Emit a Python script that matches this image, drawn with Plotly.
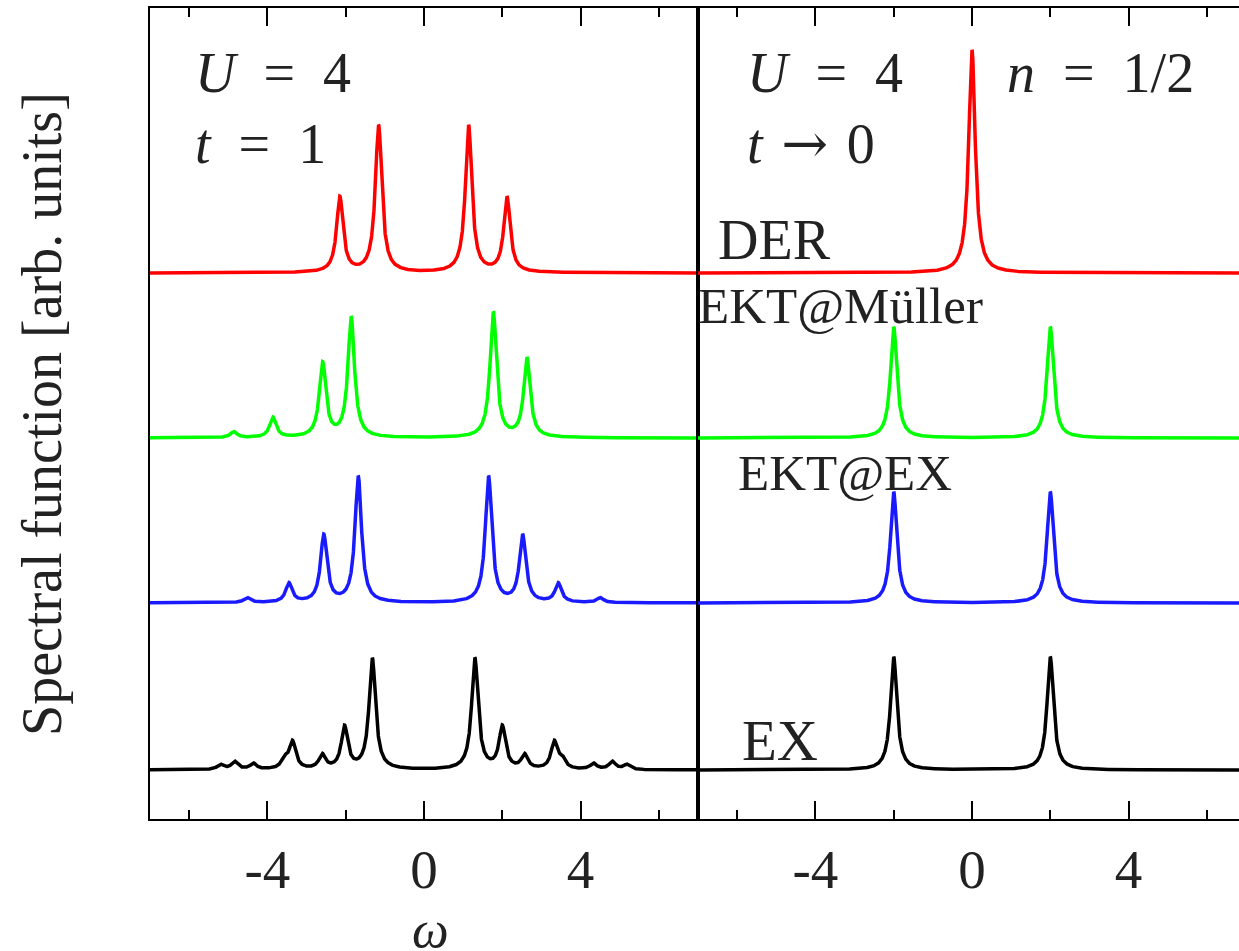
import numpy as np
import plotly.graph_objects as go

W, H = 1239, 951

# ---------------- data ----------------
# peak positions (omega) and peak heights (arb. units) of each spectral curve
gamma = 0.10  # Lorentzian half-width used for broadening

# left panel: U = 4, t = 1
der_t1_pos = [-2.15, -1.16, 1.14, 2.12]
der_t1_amp = [0.75, 1.47, 1.47, 0.75]
mul_t1_pos = [-4.86, -3.86, -2.59, -1.86, 1.77, 2.63]
mul_t1_amp = [0.06, 0.20, 0.74, 1.20, 1.25, 0.79]
ekt_t1_pos = [-4.52, -3.45, -2.56, -1.68, 1.65, 2.52, 3.43, 4.50]
ekt_t1_amp = [0.05, 0.19, 0.67, 1.26, 1.26, 0.67, 0.19, 0.05]
ex_t1_pos = [-5.20, -4.84, -4.36, -3.56, -3.36, -2.60, -2.03, -1.32,
             1.30, 2.00, 2.57, 3.33, 3.53, 4.33, 4.81, 5.18]
ex_t1_amp = [0.05, 0.08, 0.06, 0.09, 0.27, 0.14, 0.42, 1.11,
             1.11, 0.42, 0.14, 0.27, 0.09, 0.06, 0.08, 0.05]

# right panel: U = 4, t -> 0
der_t0_pos = [0.0]
der_t0_amp = [2.23]
mul_t0_pos = [-2.0, 2.0]
mul_t0_amp = [1.11, 1.11]
ekt_t0_pos = [-2.0, 2.0]
ekt_t0_amp = [1.11, 1.11]
ex_t0_pos = [-2.0, 2.0]
ex_t0_amp = [1.13, 1.13]

# vertical offsets of the stacked curves
offsets = {"DER": 4.97, "EKT@Müller": 3.32, "EKT@EX": 1.67, "EX": 0.0}
colors = {"DER": "#ff0000", "EKT@Müller": "#00ff00", "EKT@EX": "#1a1aff", "EX": "#000000"}

tick_vals = [-4, 0, 4]
tick_text = ["-4", "0", "4"]
minor_vals = [-6, -2, 2, 6]

omega = np.linspace(-7, 7, 4201)


def spectrum(pos, amp):
    y = np.zeros_like(omega)
    for p, a in zip(pos, amp):
        y += a * gamma**2 / ((omega - p) ** 2 + gamma**2)
    return y


left = {"DER": (der_t1_pos, der_t1_amp), "EKT@Müller": (mul_t1_pos, mul_t1_amp),
        "EKT@EX": (ekt_t1_pos, ekt_t1_amp), "EX": (ex_t1_pos, ex_t1_amp)}
right = {"DER": (der_t0_pos, der_t0_amp), "EKT@Müller": (mul_t0_pos, mul_t0_amp),
         "EKT@EX": (ekt_t0_pos, ekt_t0_amp), "EX": (ex_t0_pos, ex_t0_amp)}

fig = go.Figure()
for name, (p, a) in left.items():
    fig.add_trace(go.Scatter(x=omega, y=spectrum(p, a) + offsets[name], mode="lines",
                             line=dict(color=colors[name], width=3.5), xaxis="x", yaxis="y",
                             name=name, showlegend=False))
for name, (p, a) in right.items():
    fig.add_trace(go.Scatter(x=omega, y=spectrum(p, a) + offsets[name], mode="lines",
                             line=dict(color=colors[name], width=3.5), xaxis="x2", yaxis="y2",
                             name=name, showlegend=False))

FONT = "Liberation Serif, Times New Roman, serif"
tickfont = dict(family=FONT, size=55, color="#222")


def xax(domain, rng):
    return dict(domain=domain, range=rng, showgrid=False, zeroline=False,
                showline=True, linecolor="black", linewidth=2, mirror="ticks",
                ticks="inside", ticklen=18, tickwidth=2, tickcolor="black",
                tickmode="array", tickvals=tick_vals, ticktext=tick_text,
                tickfont=tickfont, ticklabelstandoff=1,
                minor=dict(tickmode="array", tickvals=minor_vals, ticks="inside",
                           ticklen=9, tickwidth=2, tickcolor="black", showgrid=False))


ydom = [1 - 819 / H, 1 - 8 / H]
yrng = [-0.49, 7.62]
x1dom = [150 / W, 698 / W]
x2dom = [698 / W, 1.0]

fig.update_layout(
    width=W, height=H, margin=dict(l=0, r=0, t=0, b=0, pad=0),
    paper_bgcolor="white", plot_bgcolor="white",
    xaxis=xax(x1dom, [-7, 7]),
    xaxis2=xax(x2dom, [-7, 7 * (1239 - 972) / (1246 - 972)]),
    yaxis=dict(domain=ydom, range=yrng, showgrid=False, zeroline=False, showticklabels=False,
               ticks="", showline=True, linecolor="black", linewidth=2, mirror=True),
    yaxis2=dict(domain=ydom, range=yrng, showgrid=False, zeroline=False, showticklabels=False,
                ticks="", showline=True, linecolor="black", linewidth=2, mirror=False,
                anchor="x2"),
)


def px(x, y):
    return x / W, 1 - y / H


ARROW = '<span style="font-family:DejaVu Serif">\u2192</span>'
annots = [
    ("<i>U</i>\u2002=\u20024", 193, 73, 56, "left", 0),
    ("<i>t</i>\u2002=\u20021", 193, 144, 56, "left", 0),
    ("<i>U</i>\u2002=\u20024", 745, 73, 56, "left", 0),
    ("<i>t</i>\u2004" + ARROW + "\u20040", 745, 144, 56, "left", 0),
    ("<i>n</i>\u2002=\u20021/2", 1005, 73, 56, "left", 0),
    ("DER", 716, 240, 56, "left", 0),
    ("EKT@Müller", 696, 306, 51, "left", 0),
    ("EKT@EX", 736, 473, 51, "left", 0),
    ("EX", 740, 740, 57, "left", 0),
    ("<i>ω</i>", 430, 929, 52, "center", 0),
    ("Spectral function [arb. units]", 42, 414, 56, "center", -90),
]
for text, x, y, size, xa, ang in annots:
    ax_, ay_ = px(x, y)
    fig.add_annotation(text=text, x=ax_, y=ay_, xref="paper", yref="paper",
                       xanchor=xa, yanchor="middle", showarrow=False, textangle=ang,
                       font=dict(family=FONT, size=size, color="#222"))

fig.write_html("out.html", config={"displayModeBar": False},
               post_script="document.body.style.margin='0px';")
